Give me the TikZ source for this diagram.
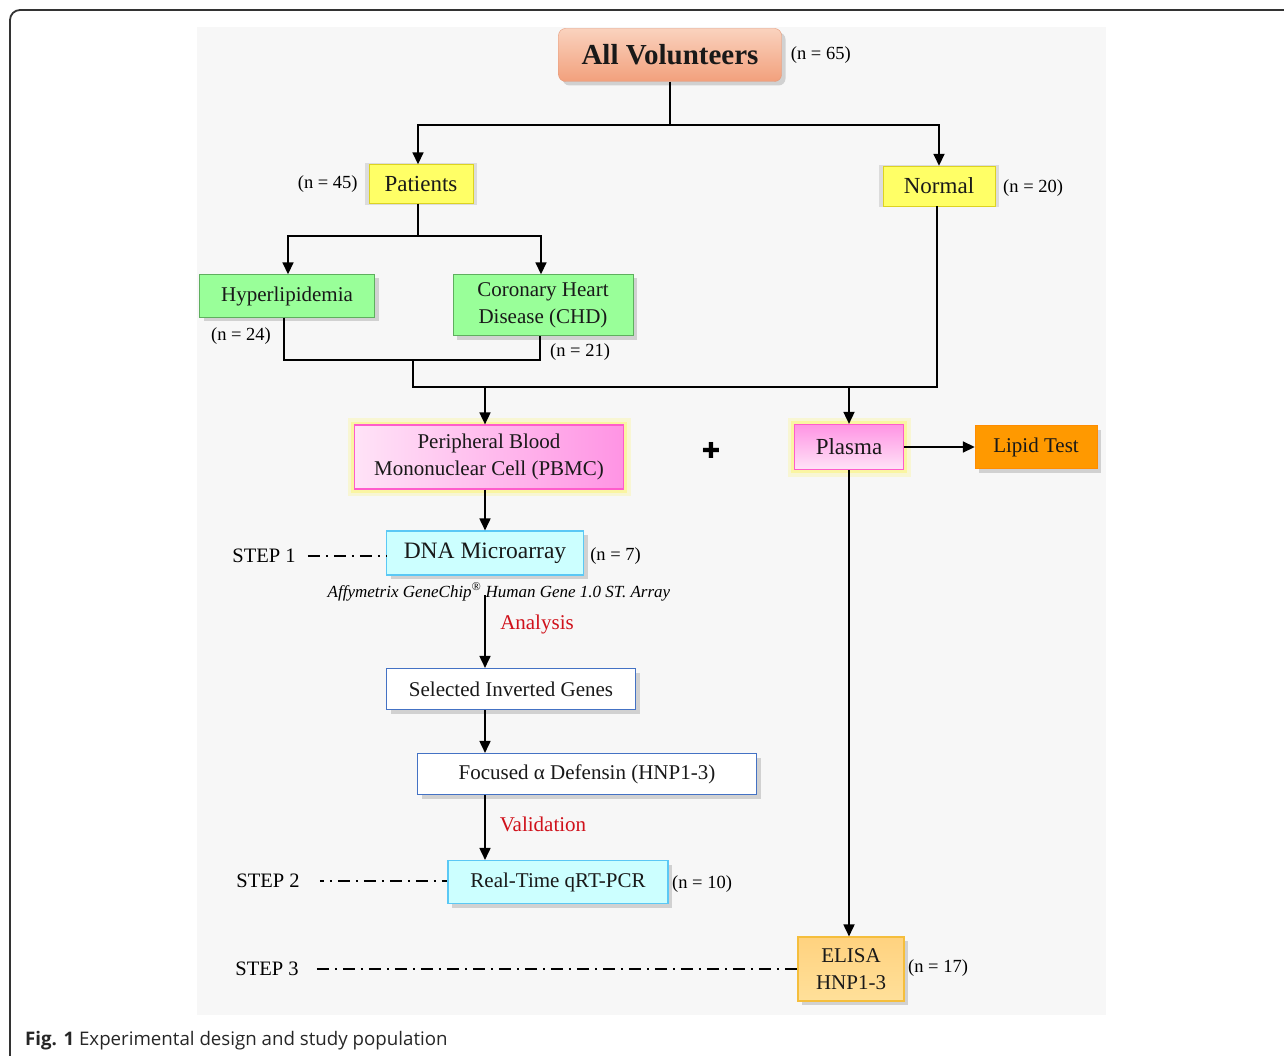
\documentclass[tikz,border=0pt]{standalone}
\usepackage{fontspec}
\setmainfont{Liberation Serif}
\newfontfamily\captionfont{Open Sans}
\newfontfamily\symbolfont{DejaVu Sans}
\usetikzlibrary{arrows.meta}
\usetikzlibrary{shadows}
\usetikzlibrary{positioning}

\definecolor{panelgray}{HTML}{F7F7F7}
\definecolor{salmontop}{HTML}{FAD2BE}
\definecolor{salmonbot}{HTML}{F2A07C}
\definecolor{salmonedge}{HTML}{E49878}
\definecolor{patientyellow}{HTML}{FFFF66}
\definecolor{diseasegreen}{HTML}{99FF99}
\definecolor{greenedge}{HTML}{5FAF5F}
\definecolor{pinklight}{HTML}{FFE3F7}
\definecolor{pinkdark}{HTML}{FF94E4}
\definecolor{pinkedge}{HTML}{FF5CCB}
\definecolor{lipidorange}{HTML}{FF9900}
\definecolor{arraycyan}{HTML}{CCFFFF}
\definecolor{cyanedge}{HTML}{5BC8F5}
\definecolor{geneblue}{HTML}{4472C4}
\definecolor{elisatop}{HTML}{FFD27F}
\definecolor{elisabot}{HTML}{FFE09A}
\definecolor{elisaedge}{HTML}{F5BE3C}
\definecolor{notered}{HTML}{D0111B}

\tikzset{
  box/.style={draw, inner sep=0pt, align=center, text=black!90,
    font=\fontsize{21}{27}\selectfont},
  bigtext/.style={font=\fontsize{23}{27}\selectfont},
  boxshadow/.style={drop shadow={shadow xshift=4pt, shadow yshift=-4pt,
    opacity=0.22, fill=black!70}},
  haloshadow/.style={drop shadow={shadow xshift=0pt, shadow yshift=0pt,
    shadow scale=1.07, opacity=0.18, fill=black!60}},
  glow/.style={preaction={draw=yellow!80, line width=14pt, opacity=0.18},
    preaction={draw=yellow!80, line width=7pt, opacity=0.3}},
  link/.style={line width=1.7pt},
  flow/.style={line width=1.7pt, -{Triangle[length=12pt,width=11pt]}},
  nlabel/.style={inner sep=0pt, font=\fontsize{18.5}{20}\selectfont},
  steplabel/.style={inner sep=0pt, font=\fontsize{20.5}{22}\selectfont},
  stepline/.style={line width=1.7pt, dash pattern=on 12pt off 6pt on 2pt off 6pt},
  remark/.style={inner sep=0pt, text=notered, font=\fontsize{21}{24}\selectfont}
}

\begin{document}
\begin{tikzpicture}[x=1pt, y=-1pt]
  \useasboundingbox (0,0) rectangle (1284,1056);
  \draw[line width=1.8pt, black!80, rounded corners=10pt]
    (10,1080) -- (10,10) -- (1300,10);
  \fill[panelgray] (197,27) rectangle (1106,1015);

  \node[box, boxshadow, rounded corners=7pt, draw=salmonedge,
    top color=salmontop, bottom color=salmonbot,
    minimum width=223pt, minimum height=53pt,
    font=\fontsize{29}{32}\selectfont\bfseries] (all) at (670,55) {All Volunteers};
  \node[nlabel, right=9pt of all] (nall) {(n = 65)};

  \node[box, bigtext, haloshadow, fill=patientyellow, draw=yellow!85!black,
    minimum width=104pt, minimum height=39pt] (patients) at (421,184) {Patients};
  \node[nlabel, left=11pt of patients] (npatients) {(n = 45)};
  \node[box, bigtext, haloshadow, fill=patientyellow, draw=yellow!85!black,
    minimum width=112pt, minimum height=40pt] (normal) at (939,186) {Normal};
  \node[nlabel, anchor=west] (nnormal) at (1003,188) {(n = 20)};

  \node[box, boxshadow, fill=diseasegreen, draw=greenedge,
    minimum width=175pt, minimum height=43pt] (hyper) at (287,296) {Hyperlipidemia};
  \node[nlabel] (nhyper) at (241,336) {(n = 24)};
  \node[box, boxshadow, fill=diseasegreen, draw=greenedge,
    minimum width=180pt, minimum height=61pt] (chd) at (543,305)
    {Coronary Heart\\Disease (CHD)};
  \node[nlabel, anchor=west] (nchd) at (550,352) {(n = 21)};

  \node[box, glow, left color=pinklight, right color=pinkdark, draw=pinkedge,
    line width=1.2pt, minimum width=269pt, minimum height=64pt] (pbmc) at (489,457)
    {Peripheral Blood\\Mononuclear Cell (PBMC)};
  \node[inner sep=0pt, font=\symbolfont\fontsize{22}{24}\selectfont] (plus) at (711,450) {✚};
  \node[box, bigtext, glow, top color=pinkdark, bottom color=pinklight, draw=pinkedge,
    line width=1.2pt, minimum width=109pt, minimum height=45pt] (plasma) at (849,447) {Plasma};
  \node[box, boxshadow, fill=lipidorange, draw=orange!90!yellow,
    minimum width=122pt, minimum height=43pt] (lipid) at (1036,447) {Lipid Test};

  \node[box, boxshadow, fill=arraycyan, draw=cyanedge, line width=1.1pt,
    minimum width=197pt, minimum height=44pt,
    font=\fontsize{23.5}{27}\selectfont] (dna) at (485,553) {DNA Microarray};
  \node[nlabel, right=6pt of dna.east, yshift=-3pt, anchor=west] (ndna) {(n = 7)};
  \node[steplabel] (step1) at (264,556) {STEP 1};
  \node[inner sep=0pt, font=\fontsize{17}{19}\selectfont\itshape] (affy) at (499,592)
    {Affymetrix GeneChip\textsuperscript{®} Human Gene 1.0 ST. Array};
  \node[remark] (analysis) at (537,624) {Analysis};

  \node[box, boxshadow, fill=white, draw=geneblue, line width=1.1pt,
    minimum width=249pt, minimum height=41pt] (selected) at (511,689) {Selected Inverted Genes};
  \node[box, boxshadow, fill=white, draw=geneblue, line width=1.1pt,
    minimum width=339pt, minimum height=41pt] (focused) at (587,774)
    {Focused α Defensin (HNP1-3)};
  \node[remark] (validation) at (543,824) {Validation};

  \node[box, boxshadow, fill=arraycyan, draw=cyanedge, line width=1.1pt,
    minimum width=220pt, minimum height=43pt] (qpcr) at (558,882) {Real-Time qRT-PCR};
  \node[nlabel, anchor=west] (nqpcr) at (672,884) {(n = 10)};
  \node[steplabel] (step2) at (268,881) {STEP 2};

  \node[box, boxshadow, top color=elisatop, bottom color=elisabot, draw=elisaedge,
    line width=1.1pt, minimum width=106pt, minimum height=64pt] (elisa) at (851,969)
    {ELISA\\HNP1-3};
  \node[nlabel, anchor=west] (nelisa) at (908,968) {(n = 17)};
  \node[steplabel] (step3) at (267,969) {STEP 3};

  \coordinate (fork1) at (670,125);
  \coordinate (fork2) at (418,236);
  \coordinate (join1) at (413,360);
  \coordinate (merge) at (413,387);

  \draw[link] (all.south) -- (fork1);
  \draw[flow] (fork1) -| ([xshift=-3pt]patients.north);
  \draw[flow] (fork1) -| (normal.north);
  \draw[link] ([xshift=-3pt]patients.south) -- (fork2);
  \draw[flow] (fork2) -| ([xshift=1pt]hyper.north);
  \draw[flow] (fork2) -| ([xshift=-2pt]chd.north);
  \draw[link] ([xshift=-3pt]hyper.south) |- (join1) -| ([xshift=-3pt]chd.south);
  \draw[link] (join1) -- (merge) -| ([xshift=-2pt]normal.south);
  \draw[flow] (merge -| dna.north) -- (dna.north |- pbmc.north);
  \draw[flow] (merge -| plasma.north) -- (plasma.north);
  \draw[flow] (plasma) -- (lipid);
  \draw[flow] (dna.north |- pbmc.south) -- (dna.north);
  \draw[flow] ([yshift=6pt]affy.south -| dna.south) -- (dna.south |- selected.north);
  \draw[flow] (dna.south |- selected.south) -- (dna.south |- focused.north);
  \draw[flow] (dna.south |- focused.south) -- (dna.south |- qpcr.north);
  \draw[flow] (plasma.south) -- (plasma.south |- elisa.north);

  \draw[stepline] ([xshift=12pt]step1.east) -- (step1.east -| dna.west);
  \draw[stepline, dash phase=8pt] ([xshift=20pt]step2.east) -- (step2.east -| qpcr.west);
  \draw[stepline] ([xshift=18pt]step3.east) -- (step3.east -| elisa.west);

  \node[anchor=west, inner sep=0pt, text=black!85,
    font=\captionfont\fontsize{18.7}{22}\selectfont] (caption) at (25,1041)
    {\textbf{Fig. 1} Experimental design and study population};
\end{tikzpicture}
\end{document}
